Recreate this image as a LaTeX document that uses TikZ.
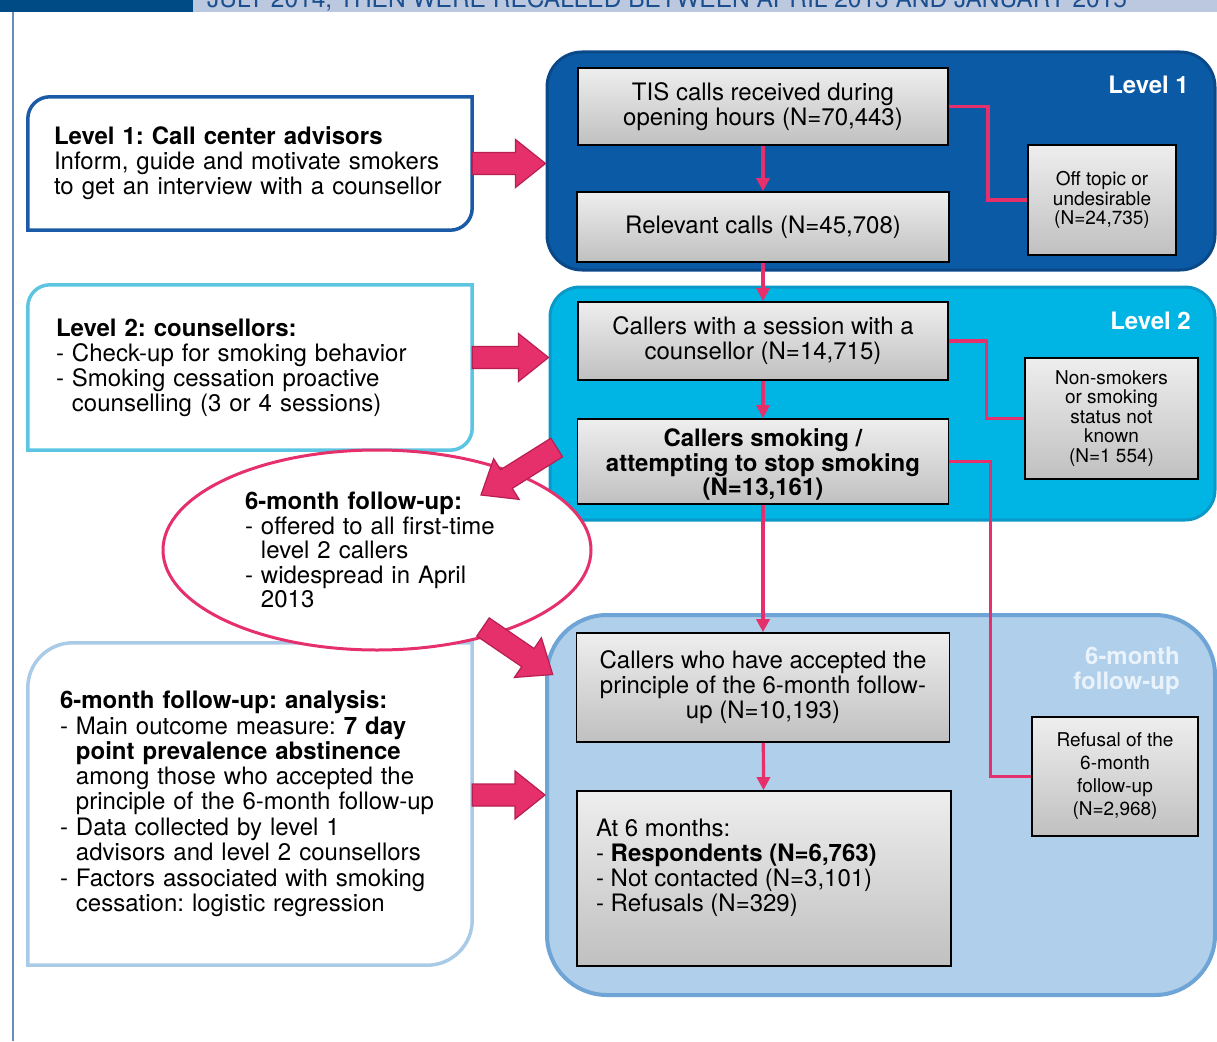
\documentclass[tikz,border=0pt]{standalone}
\usepackage{fontspec}
\setmainfont{TeX Gyre Heros}
\usetikzlibrary{shapes.geometric,arrows.meta,calc}

\definecolor{hdrdark}{HTML}{004A86}
\definecolor{hdrband}{HTML}{BCC8DF}
\definecolor{hdrtext}{HTML}{1B4F8E}
\definecolor{frameline}{HTML}{6B8FBB}
\definecolor{lvonefill}{HTML}{0B5AA6}
\definecolor{lvoneline}{HTML}{0A4888}
\definecolor{lvtwofill}{HTML}{00B5E3}
\definecolor{lvtwoline}{HTML}{0B98C8}
\definecolor{fupfill}{HTML}{B0CFEA}
\definecolor{fupline}{HTML}{6FA4D6}
\definecolor{fuplabel}{HTML}{EAF3FB}
\definecolor{sideone}{HTML}{1B5AA6}
\definecolor{sidetwo}{HTML}{5CC6E2}
\definecolor{sidethree}{HTML}{AACBE8}
\definecolor{flowpink}{HTML}{E5306B}
\definecolor{arrowedge}{HTML}{B81E52}
\definecolor{boxtop}{HTML}{EEEEEE}
\definecolor{boxbot}{HTML}{C0C0C0}

\newcommand\ind{\phantom{- }}
\newcommand\sidebox[3]{%
  \draw[line width=3.5pt, #3] (#1.south west) -- ([yshift=-#2]#1.north west)
    arc[start angle=180, end angle=90, radius=#2] -- (#1.north east)
    -- ([yshift=#2]#1.south east)
    arc[start angle=0, end angle=-90, radius=#2] -- cycle;}
\newcommand\blockarrow[2]{%
  \coordinate (ba-h) at ($(#2)!30pt!(#1)$);
  \filldraw[bigarrow] ($(#1)!11pt!90:(#2)$) -- ($(ba-h)!11pt!-90:(#1)$)
    -- ($(ba-h)!24pt!-90:(#1)$) -- (#2) -- ($(ba-h)!24pt!90:(#1)$)
    -- ($(ba-h)!11pt!90:(#1)$) -- ($(#1)!11pt!-90:(#2)$) -- cycle;}

\begin{document}
\frenchspacing
\begin{tikzpicture}[x=1pt, y=-1pt,
    graybox/.style={draw=black, line width=1.6pt, top color=boxtop, bottom color=boxbot,
      align=center, inner sep=0pt, font=\fontsize{24}{25}\selectfont},
    smallbox/.style={graybox, font=\fontsize{19}{19.5}\selectfont},
    container/.style={rounded corners=#1, line width=3pt},
    sidetext/.style={align=left, inner ysep=0pt, font=\fontsize{24}{25}\selectfont,
      minimum width=444, text width=444-2*#1, inner xsep=#1},
    flow/.style={draw=flowpink, line width=3.2pt, -{Triangle[length=13pt,width=13pt]}},
    elbow/.style={draw=flowpink, line width=3.2pt},
    bigarrow/.style={fill=flowpink, draw=arrowedge, line width=1.2pt, line join=miter},
    levellabel/.style={text=white, inner sep=0pt, font=\bfseries\fontsize{24}{25}\selectfont}]
  \useasboundingbox (0,0) rectangle (1217,1041);

  \fill[hdrdark] (0,0) rectangle (193,12);
  \fill[hdrband] (193,0) rectangle (1217,12);
  \begin{scope}
    \clip (193,0) rectangle (1217,12);
    \node[anchor=base west, inner sep=0pt, text=hdrtext, font=\fontsize{24.5}{25}\selectfont] (hdr)
      at (207,8) {JULY 2014, THEN WERE RECALLED BETWEEN APRIL 2013 AND JANUARY 2015};
  \end{scope}
  \draw[frameline, line width=1.5pt] (13,12) -- (13,1041);

  \node[sidetext=26, minimum height=133] (l1box) at (250,163.5)
    {\textbf{Level 1: Call center advisors}\\Inform, guide and motivate smokers\\to get an interview with a counsellor};
  \sidebox{l1box}{22pt}{sideone}
  \node[sidetext=28, minimum height=165] (l2box) at (250,367.5)
    {\textbf{Level 2: counsellors:}\\- Check-up for smoking behavior\\- Smoking cessation proactive\\\ind counselling (3 or 4 sessions)};
  \sidebox{l2box}{22pt}{sidetwo}
  \node[sidetext=32, minimum height=322] (anbox) at (250,804)
    {\textbf{6-month follow-up: analysis:}\\[1pt]
     - Main outcome measure: \textbf{7 day}\\
     \ind\textbf{point prevalence abstinence}\\
     \ind among those who accepted the\\
     \ind principle of the 6-month follow-up\\[1pt]
     - Data collected by level 1\\
     \ind advisors and level 2 counsellors\\[1pt]
     - Factors associated with smoking\\
     \ind cessation: logistic regression};
  \sidebox{anbox}{45pt}{sidethree}

  \node[container=35pt, fill=lvonefill, draw=lvoneline, minimum width=668, minimum height=218] (lvl1) at (881,161) {};
  \node[container=30pt, fill=lvtwofill, draw=lvtwoline, minimum width=665, minimum height=233] (lvl2) at (882.5,403.5) {};
  \node[container=60pt, fill=fupfill, draw=fupline, line width=4pt, minimum width=668, minimum height=380] (fup) at (881,805) {};
  \node[levellabel, anchor=east] (lab1) at (1189,85) {Level 1};
  \node[levellabel, anchor=east] (lab2) at (1191,321) {Level 2};
  \node[levellabel, anchor=north east, align=right, text=fuplabel] (lab3) at (1180,647) {6-month\\follow-up};

  \node[graybox, minimum width=370, minimum height=77] (tis) at (763,106.5) {TIS calls received during\\opening hours (N=70,443)};
  \node[graybox, minimum width=372, minimum height=70] (rel) at (763,227) {Relevant calls (N=45,708)};
  \node[smallbox, minimum width=148, minimum height=110] (off) at (1102,200) {Off topic or\\undesirable\\(N=24,735)};
  \node[graybox, minimum width=370, minimum height=78] (ses) at (763,341) {Callers with a session with a\\counsellor (N=14,715)};
  \node[graybox, font=\bfseries\fontsize{24}{24.5}\selectfont, minimum width=371, minimum height=85] (smk) at (763,461.5)
    {\rule{0pt}{24pt}Callers smoking /\\attempting to stop smoking\\(N=13,161)};
  \node[smallbox, minimum width=173, minimum height=121] (non) at (1111.5,418.5) {Non-smokers\\or smoking\\status not\\known\\(N=1 554)};
  \node[graybox, minimum width=373, minimum height=109] (acc) at (763,687.5)
    {Callers who have accepted the\\principle of the 6-month follow-\\up (N=10,193)};
  \node[graybox, minimum width=374, minimum height=175] (six) at (764,878.5)
    {\parbox[t][119pt][t]{336pt}{\raggedright At 6 months:\\- \textbf{Respondents (N=6,763)}\\- Not contacted (N=3,101)\\- Refusals (N=329)}};
  \node[smallbox, font=\fontsize{19}{23}\selectfont, minimum width=166, minimum height=119] (ref) at (1115,776.5)
    {Refusal of the\\6-month\\follow-up\\(N=2,968)};

  \draw[flow] (tis) -- (rel);
  \draw[flow] (rel) -- (ses);
  \draw[flow] (ses) -- (smk);
  \draw[flow] (smk) -- (acc);
  \draw[flow] (acc) -- (six);
  \draw[elbow] (tis.east) -| ($(tis.east)!.5!(off.west)$) |- (off.west);
  \draw[elbow] (ses.east) -| ($(ses.east)!.5!(non.west)$) |- (non.west);
  \draw[elbow] (smk.east) -| ($(smk.east)!.5!(ref.west)$) |- (ref.west);

  \node[ellipse, draw=flowpink, line width=3pt, fill=white, minimum width=428, minimum height=200,
    inner sep=0pt, align=left, text width=264, font=\fontsize{24}{24.5}\selectfont] (fue) at (377,550)
    {\textbf{6-month follow-up:}\\- offered to all first-time\\\ind level 2 callers\\- widespread in April\\\ind 2013};

  \coordinate (a1s) at (l1box.east);
  \coordinate (a1t) at (a1s -| lvl1.west);
  \coordinate (a2s) at ([yshift=10pt]l2box.east);
  \coordinate (a2t) at (a2s -| lvl2.west);
  \coordinate (a3s) at ($(smk.west)+(-20,-14)$);
  \coordinate (a3t) at ($(fue.center)+(104,-55)$);
  \coordinate (a4s) at ($(fue.center)+(106,77)$);
  \coordinate (a4t) at ($(acc.west)+(-23,-13)$);
  \coordinate (a5s) at ([yshift=9pt]anbox.east);
  \coordinate (a5t) at (a5s -| fup.west);
  \blockarrow{a1s}{a1t}
  \blockarrow{a2s}{a2t}
  \blockarrow{a3s}{a3t}
  \blockarrow{a4s}{a4t}
  \blockarrow{a5s}{a5t}
\end{tikzpicture}
\end{document}
